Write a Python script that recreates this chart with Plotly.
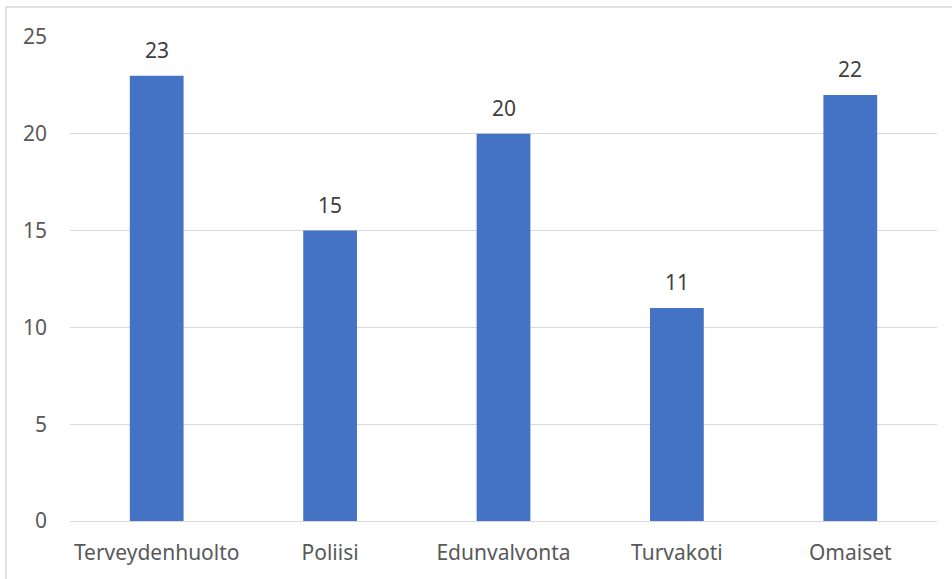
import plotly.graph_objects as go

categories = ["Terveydenhuolto", "Poliisi", "Edunvalvonta", "Turvakoti", "Omaiset"]
values = [23, 15, 20, 11, 22]
y_ticks = [0, 5, 10, 15, 20, 25]

FONT = "Noto Sans, Open Sans, sans-serif"
GRID = "#d9d9d9"
FS = 21

fig = go.Figure(
    go.Bar(
        x=categories,
        y=values,
        width=0.31,
        marker=dict(color="#4472C4", line=dict(width=0)),
        hoverinfo="x+y",
    )
)

# value labels above each bar
for cat, val in zip(categories, values):
    fig.add_annotation(
        x=cat, y=val, text=str(val), showarrow=False,
        yanchor="bottom", yshift=10,
        font=dict(family=FONT, size=FS, color="#404040"),
    )

# thin outer frame of the chart area
fig.add_shape(
    type="rect", xref="paper", yref="paper",
    x0=-0.0738, x1=1.03, y0=-0.14, y1=1.062,
    line=dict(color=GRID, width=1.5), fillcolor="rgba(0,0,0,0)", layer="below",
)

fig.update_layout(
    width=952, height=579,
    margin=dict(l=70, r=15, t=37, b=58),
    paper_bgcolor="white", plot_bgcolor="white",
    showlegend=False,
    bargap=0.69,
    font=dict(family=FONT, size=FS, color="#595959"),
    xaxis=dict(
        showgrid=False, showline=True, linecolor=GRID, linewidth=1,
        ticks="", ticklabelstandoff=13,
        tickfont=dict(family=FONT, size=FS, color="#595959"),
    ),
    yaxis=dict(
        range=[0, 25], tickvals=y_ticks, showgrid=True, gridcolor=GRID, gridwidth=1,
        zeroline=True, zerolinecolor=GRID, zerolinewidth=1,
        showline=False, ticks="", ticklabelstandoff=22,
        tickfont=dict(family=FONT, size=FS, color="#595959"),
    ),
)

fig.write_html("out.html")
